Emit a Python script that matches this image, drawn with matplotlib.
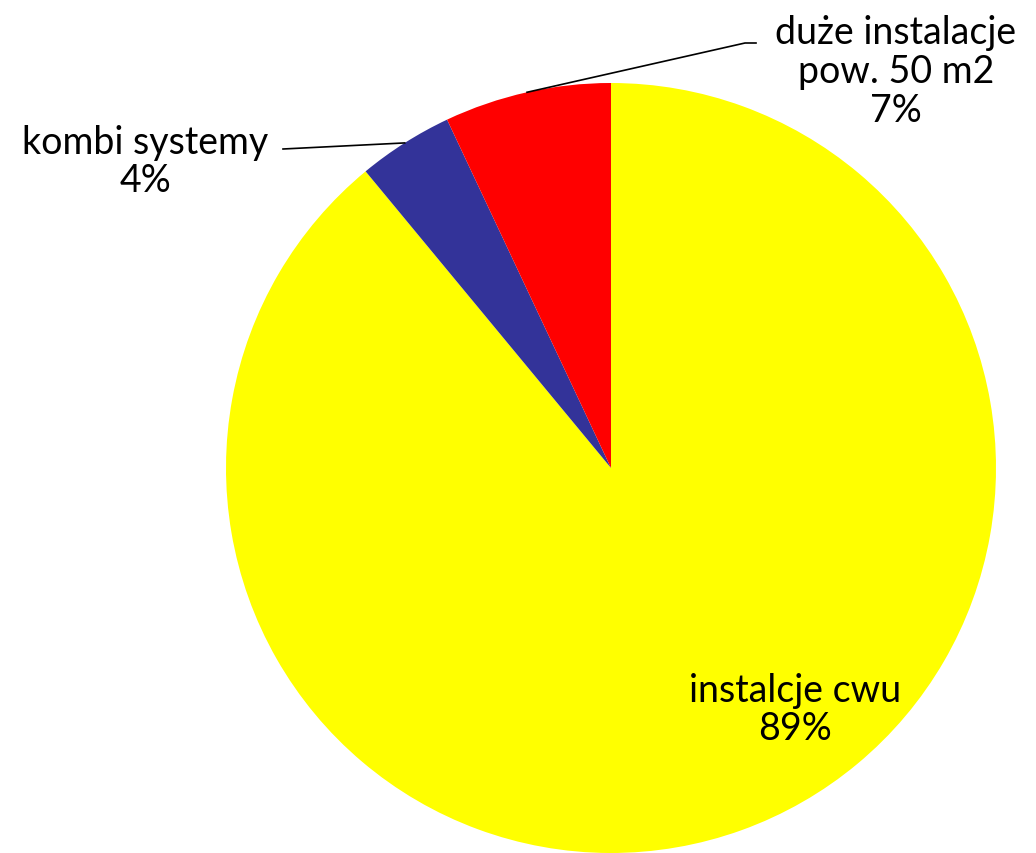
import numpy as np
import matplotlib.pyplot as plt

labels = ["instalcje cwu", "kombi systemy", "duże instalacje\npow. 50 m2"]
values = [89, 4, 7]
colors = ["#FFFF00", "#333399", "#FF0000"]

W, H = 1036, 854
fig = plt.figure(figsize=(W / 100, H / 100), dpi=100)
ax = fig.add_axes([0, 0, 1, 1])

cx, cy, r = 611, H - 469, 385
wedges, _ = ax.pie(values, colors=colors, startangle=90, counterclock=False,
                   center=(cx, cy), radius=r, frame=True)
ax.set_xlim(0, W)
ax.set_ylim(0, H)
ax.set_aspect("equal")
ax.axis("off")

plt.rcParams["font.family"] = ["Lato", "DejaVu Sans"]
fs = 27

def edge(w):
    a = np.deg2rad((w.theta1 + w.theta2) / 2)
    return cx + r * np.cos(a), cy + r * np.sin(a)

# instalcje cwu - inside
ax.text(795, H - 710, f"{labels[0]}\n{values[0]}%", ha="center", va="center",
        fontsize=fs, linespacing=1.1)

# kombi systemy
x0, y0 = edge(wedges[1])
ax.plot([x0, 283], [y0, H - 150], color="black", lw=1.2)
ax.text(145, H - 162, f"{labels[1]}\n{values[1]}%", ha="center", va="center",
        fontsize=fs, linespacing=1.1)

# duze instalacje
x0, y0 = edge(wedges[2])
ax.plot([x0, 745, 756], [y0, H - 44, H - 44], color="black", lw=1.2)
ax.text(896, H - 72, f"{labels[2]}\n{values[2]}%", ha="center", va="center",
        fontsize=fs, linespacing=1.1)

plt.savefig("out.png", dpi=100)
